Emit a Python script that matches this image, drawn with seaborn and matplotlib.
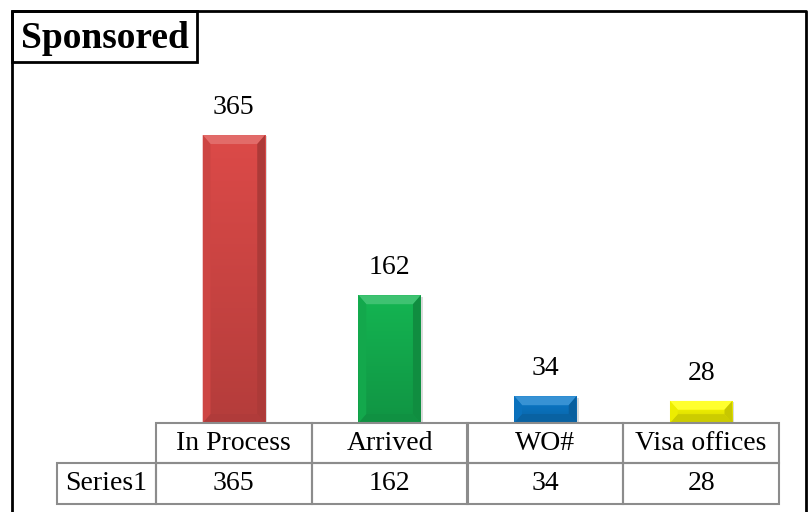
import numpy as np
import pandas as pd
import matplotlib
matplotlib.use("Agg")
import matplotlib.pyplot as plt
import matplotlib.patheffects as pe
from matplotlib.patches import Rectangle, Polygon
from matplotlib.colors import LinearSegmentedColormap, to_rgb
import seaborn as sns

# chart data
categories = ["In Process", "Arrived", "WO#", "Visa offices"]
values = [365, 162, 34, 28]
series_name = "Series1"
title = "Sponsored"
bar_colors = ["#DC4A48", "#14B552", "#0B7ACB", "#FFFF00"]

sns.set_style("white")
plt.rcParams["font.family"] = ["Liberation Serif", "DejaVu Serif"]
plt.rcParams["text.color"] = "black"

df = pd.DataFrame({"cat": categories, "val": values})

fig = plt.figure(figsize=(8.09, 5.12), dpi=100)
W, H = 809, 512

# pixel scale: 365 units -> 288 px
px_per_unit = 288 / 365
hdr_h = 40 / px_per_unit
val_h = 41 / px_per_unit
y_bot = -(hdr_h + val_h)
y_top = 450

ax = fig.add_axes([156 / W, (H - 504) / H, (779 - 156) / W, (504 - 68) / H])
sns.barplot(data=df, x="cat", y="val", hue="cat", palette=bar_colors,
            width=0.4, legend=False, ax=ax, saturation=1)
ax.axis("off")


def shade(c, f):
    r = np.array(to_rgb(c))
    if f >= 1:
        return tuple(r + (1 - r) * (f - 1))
    return tuple(r * f)


bars = sorted([p for p in ax.patches if p.get_height() > 0], key=lambda p: p.get_x())

# bevel look on each bar
bx = 0.05
by = 9 / px_per_unit
for p, c in zip(bars, bar_colors):
    x0, y0 = p.get_x(), p.get_y()
    w, h = p.get_width(), p.get_height()
    x1, y1 = x0 + w, y0 + h
    p.set_edgecolor("none")
    p.set_path_effects([pe.SimplePatchShadow(offset=(1.5, -1), shadow_rgbFace="#888888", alpha=0.3),
                        pe.Normal()])
    cmap = LinearSegmentedColormap.from_list("g", [shade(c, 1.0), shade(c, 0.82)])
    im = ax.imshow(np.linspace(0, 1, 100).reshape(-1, 1), cmap=cmap, aspect="auto",
                   extent=(x0, x1, y0, y1), origin="upper", zorder=p.get_zorder() + 0.1)
    im.set_clip_path(p)
    bh = min(by, h / 2.5)
    z = p.get_zorder() + 0.2
    # top
    ax.add_patch(Polygon([(x0, y1), (x1, y1), (x1 - bx, y1 - bh), (x0 + bx, y1 - bh)],
                         closed=True, fc=shade(c, 1.18), ec="none", zorder=z))
    # right
    ax.add_patch(Polygon([(x1, y1), (x1, y0), (x1 - bx, y0 + bh), (x1 - bx, y1 - bh)],
                         closed=True, fc=shade(c, 0.78), ec="none", zorder=z))
    # bottom
    ax.add_patch(Polygon([(x0, y0), (x1, y0), (x1 - bx, y0 + bh), (x0 + bx, y0 + bh)],
                         closed=True, fc=shade(c, 0.8), ec="none", zorder=z))
    # left
    ax.add_patch(Polygon([(x0, y0), (x0, y1), (x0 + bx, y1 - bh), (x0 + bx, y0 + bh)],
                         closed=True, fc=shade(c, 0.93), ec="none", zorder=z))
    ax.annotate(f"{h:g}", (x0 + w / 2, y1), xytext=(0, 11), textcoords="offset points",
                ha="center", va="bottom", fontsize=20)

ax.set_xlim(-0.5, 3.5)
ax.set_ylim(y_bot, y_top)

# data table below the bars
line_c = "#8C8C8C"
for i, (cat, v) in enumerate(zip(categories, values)):
    ax.add_patch(Rectangle((i - 0.5, -hdr_h), 1, hdr_h, fill=False, ec=line_c, lw=1.5,
                           clip_on=False, zorder=5))
    ax.add_patch(Rectangle((i - 0.5, y_bot), 1, val_h, fill=False, ec=line_c, lw=1.5,
                           clip_on=False, zorder=5))
    ax.text(i, -hdr_h / 2, cat, ha="center", va="center", fontsize=20)
    ax.text(i, y_bot + val_h / 2, str(v), ha="center", va="center", fontsize=20)

lab_w = (156 - 57) / 155.75
ax.add_patch(Rectangle((-0.5 - lab_w, y_bot), lab_w, val_h, fill=False, ec=line_c, lw=1.5,
                       clip_on=False, zorder=5))
ax.text(-0.5 - lab_w / 2, y_bot + val_h / 2, series_name, ha="center", va="center", fontsize=20)

# outer frame and title box (figure pixels)
def fx(x):
    return x / W


def fy(y):
    return 1 - y / H


fig.add_artist(plt.Line2D([fx(12), fx(12), fx(806), fx(806)],
                          [fy(520), fy(11), fy(11), fy(520)], color="black", lw=2))
fig.add_artist(Rectangle((fx(12), fy(62)), fx(197) - fx(12), fy(11) - fy(62),
                         fill=False, ec="black", lw=2, transform=fig.transFigure))
fig.text(fx(105), fy(38), title, ha="center", va="center", fontsize=27, fontweight="bold")

fig.savefig("out.png", dpi=100)
